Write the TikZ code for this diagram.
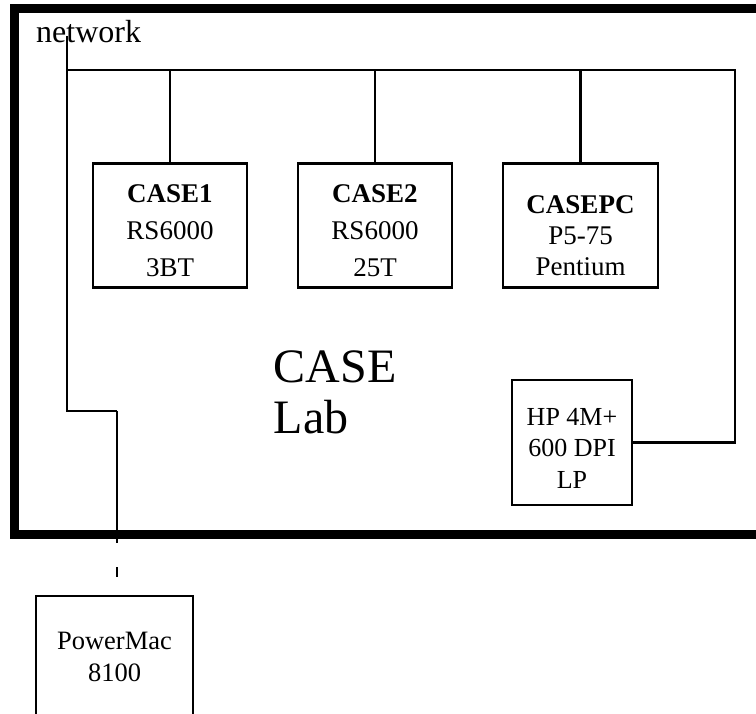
\documentclass[tikz,border=0pt]{standalone}
\usepackage{fontspec}
\setmainfont{Liberation Serif}
\newcommand\topstrut[1]{\rule{0pt}{#1}}
\begin{document}
\begin{tikzpicture}[x=1pt,y=-1pt,
  wire/.style={line width=2.4pt},
  labframe/.style={line width=9pt},
  hostbox/.style={draw,line width=2.4pt,rectangle,inner sep=0pt,align=center},
  hostfont/.style={font=\fontsize{27}{37}\selectfont},
  smallfont/.style={font=\fontsize{26}{31.5}\selectfont}]
\useasboundingbox (0,0) rectangle (756,714);
% lab boundary
\draw[labframe] (14,9) rectangle (780,534);
% labels
\node[anchor=base west,inner sep=0pt,font=\fontsize{32}{38}\selectfont] (netlabel) at (36,43) {network};
\node[anchor=north west,inner sep=0pt,align=left,font=\fontsize{48}{51}\selectfont] (lablabel) at (273.5,350.5) {CASE\\Lab};
% hosts
\node[hostbox,hostfont,minimum width=154pt,minimum height=124pt] (c1) at (170,225.5)
  {\topstrut{29pt}\textbf{CASE1}\\RS6000\\3BT};
\node[hostbox,hostfont,minimum width=154pt,minimum height=124pt] (c2) at (375,225.5)
  {\topstrut{29pt}\textbf{CASE2}\\RS6000\\25T};
\node[hostbox,font=\fontsize{27}{31}\selectfont,minimum width=155pt,minimum height=124pt] (pc) at (580.5,225.5)
  {\topstrut{39pt}\textbf{CASEPC}\\P5-75\\Pentium};
\node[hostbox,smallfont,minimum width=120pt,minimum height=125pt] (hp) at (572,442.5)
  {\topstrut{28pt}HP 4M+\\600 DPI\\LP};
\node[hostbox,font=\fontsize{26.5}{32}\selectfont,minimum width=157pt,anchor=north] (pm) at (114.5,595)
  {\topstrut{53pt}PowerMac\\8100\rule[-70pt]{0pt}{0pt}};
% network wiring
\coordinate (ntop) at (67,36);
\coordinate (nbend) at (67,411);
\coordinate (njog) at (117,411);
\coordinate (busL) at (67,70);
\coordinate (busR) at (735,70);
\draw[wire] (ntop) -- (nbend) -- (njog);
\draw[wire] (busL) -- (busR) |- (hp.east);
\draw[wire] (c1.north) -- (c1.north |- busL);
\draw[wire] (c2.north) -- (c2.north |- busL);
\draw[wire] (pc.north) -- (pc.north |- busL);
\draw[wire,dash pattern=on 132pt off 24pt on 10pt off 40pt] (njog) -- (njog |- pm.north);
\end{tikzpicture}
\end{document}
